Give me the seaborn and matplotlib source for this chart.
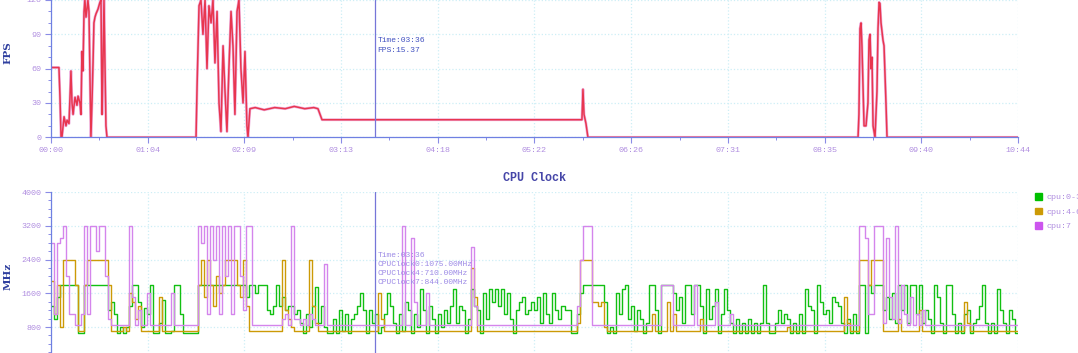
import numpy as np
import pandas as pd
import matplotlib
matplotlib.use("Agg")
import matplotlib.pyplot as plt
from matplotlib.ticker import MultipleLocator
from matplotlib.patches import Patch
import seaborn as sns

# ---------------- data ----------------
# x tick labels (mm:ss), total duration 644 s
tick_labels = ["00:00", "01:04", "02:09", "03:13", "04:18", "05:22",
               "06:26", "07:31", "08:35", "09:40", "10:44"]
duration_s = 644

# FPS trace (time in seconds, value in fps)
fps_time = [0, 5.3, 6, 6.7, 7.3, 8.7, 10, 10.7, 12, 13.3, 14, 14.7, 16, 17.3, 18,
            19.3, 20, 20.6, 21.3, 22, 22.6, 23.3, 24, 24.6, 25.3, 26, 26.6, 27.3,
            28, 28.6, 29.3, 30, 31.3, 32.6, 33.3, 34, 34.6, 35.3, 36, 36.6, 37.3,
            96.6, 97.3, 98.6, 99.9, 101.2, 102.6, 103.9, 105.2, 106.6, 107.9, 109.2,
            110.6, 111.9, 113.2, 114.6, 115.9, 117.2, 118.5, 119.9, 121.2, 122.5,
            123.9, 125.2, 126.5, 127.9, 129.2, 130.5, 131.2, 132.5, 136, 142, 149,
            156, 162, 169, 175, 177.8, 180.5, 353.6, 354.3, 355, 356.3, 357.6,
            537.5, 538.1, 538.8, 539.5, 540.1, 541.5, 542.8, 544.1, 544.8, 545.5,
            546.1, 546.8, 547.5, 548.8, 550.1, 550.8, 551.5, 552.1, 552.8, 554.1,
            554.8, 556.1, 556.8, 644]
fps_value = [61, 61, 35, 0, 0, 18, 10, 15, 12, 58, 30, 20, 35, 28, 36,
             30, 20, 75, 58, 110, 120, 105, 112, 120, 110, 50, 0, 30,
             65, 100, 105, 108, 112, 118, 120, 20, 60, 120, 60, 10, 0,
             0, 45, 115, 120, 90, 120, 60, 115, 100, 120, 65,
             110, 30, 5, 80, 40, 5, 60, 110, 80, 20,
             110, 120, 60, 30, 75, 10, 0, 25, 26, 24, 26,
             25, 27, 25, 26, 25, 15.37, 15.37, 42, 20, 12, 0,
             0, 20, 95, 100, 80, 10, 10, 30, 85, 90,
             60, 70, 10, 0, 40, 95, 118, 117, 100, 85,
             80, 30, 0, 0]

# CPU clocks (MHz), one sample every 2 s
cpu_sample_s = 2
cpu0_3 = [
    1300, 1000, 1500, 1800, 1800, 1800, 1800, 1800, 1800, 650,
    650, 1800, 1800, 1800, 1800, 1800, 1800, 1800, 1800, 1200,
    1400, 1100, 650, 800, 650, 800, 1300, 1800, 1800, 1400,
    800, 1250, 1100, 1800, 650, 650, 900, 1450, 650, 650,
    700, 1800, 1800, 1100, 650, 650, 650, 650, 650, 1800,
    1800, 1800, 1800, 1800, 1800, 1800, 1800, 1800, 1800, 1800,
    1800, 1800, 1800, 1800, 1800, 1500, 1800, 1800, 1600, 1800,
    1800, 1800, 1200, 1100, 1300, 1800, 1300, 1500, 1200, 1300,
    1300, 1100, 1200, 900, 650, 1100, 800, 1300, 1750, 900,
    1300, 800, 650, 650, 1000, 650, 1200, 700, 1100, 650,
    1000, 1100, 1300, 1600, 1200, 650, 1200, 900, 1100, 650,
    800, 1100, 1600, 1300, 900, 650, 1100, 700, 1400, 1200,
    650, 1100, 800, 1700, 1200, 650, 1300, 1000, 650, 1100,
    800, 1200, 900, 1300, 1700, 900, 1300, 1200, 650, 1000,
    1700, 1300, 1200, 650, 1600, 1000, 1700, 1400, 1700, 1300,
    1700, 1100, 1600, 1000, 650, 1200, 1400, 1500, 1100, 1200,
    1400, 1200, 1500, 900, 1600, 1100, 900, 1600, 1200, 1000,
    1300, 1200, 1200, 650, 650, 1100, 1600, 1800, 1800, 1800,
    1800, 1800, 1800, 1800, 1400, 650, 800, 650, 1600, 1100,
    1700, 1800, 1000, 1300, 700, 1200, 1000, 650, 900, 1800,
    1800, 1200, 650, 1800, 1800, 1800, 1800, 1600, 1200, 1500,
    900, 1800, 1800, 1100, 1800, 1800, 1300, 650, 1700, 1000,
    1300, 1700, 650, 1100, 1700, 1200, 900, 650, 1000, 650,
    900, 650, 1000, 650, 900, 650, 900, 1800, 900, 650,
    650, 900, 1200, 900, 1100, 1000, 650, 900, 650, 1100,
    650, 1700, 1300, 1200, 650, 1800, 1400, 1100, 1200, 900,
    1500, 1400, 1300, 900, 650, 1000, 650, 1100, 650, 1800,
    1800, 650, 1800, 1600, 1800, 1800, 1800, 1200, 1500, 1000,
    1600, 900, 1800, 1200, 1800, 900, 1800, 1800, 1100, 1800,
    900, 1200, 1000, 650, 1800, 1500, 900, 650, 1800, 1800,
    1100, 650, 900, 650, 1100, 1200, 650, 900, 1000, 1300,
    1800, 900, 650, 900, 650, 1700, 1200, 900, 650, 1200,
    1000, 650, 650]
cpu4_6 = [
    1900, 1100, 1800, 800, 2400, 2400, 2400, 2400, 1800, 710,
    710, 1800, 2400, 2400, 2400, 2400, 2400, 2400, 2400, 1800,
    710, 710, 710, 710, 800, 710, 1600, 1400, 1000, 1300,
    710, 710, 710, 710, 710, 710, 1500, 710, 710, 710,
    710, 710, 710, 710, 710, 710, 710, 710, 710, 1800,
    2400, 1500, 2400, 1800, 1300, 2000, 1600, 1800, 2400, 2400,
    2400, 2400, 1800, 1500, 2400, 1300, 710, 710, 710, 710,
    710, 710, 710, 710, 710, 710, 710, 2400, 1200, 1000,
    800, 710, 710, 710, 710, 710, 2400, 1300, 900, 710,
    710, 710, 710, 710, 710, 710, 710, 710, 710, 710,
    710, 710, 710, 710, 710, 710, 710, 710, 710, 1600,
    1000, 710, 710, 710, 710, 710, 710, 710, 710, 710,
    710, 710, 710, 710, 710, 710, 710, 710, 710, 710,
    710, 710, 710, 710, 710, 710, 710, 710, 710, 710,
    2200, 1500, 710, 710, 710, 710, 710, 710, 710, 710,
    710, 710, 710, 710, 710, 710, 710, 710, 710, 710,
    710, 710, 710, 710, 710, 710, 710, 710, 710, 710,
    710, 710, 710, 710, 710, 900, 2400, 2400, 2400, 2400,
    1400, 1400, 1300, 1400, 800, 710, 710, 710, 710, 710,
    710, 710, 710, 710, 710, 710, 710, 710, 710, 710,
    1100, 710, 710, 710, 710, 1400, 710, 1100, 710, 710,
    710, 710, 710, 710, 710, 710, 1000, 710, 710, 710,
    710, 710, 710, 710, 710, 710, 710, 710, 710, 710,
    710, 710, 710, 710, 710, 710, 710, 710, 710, 710,
    710, 710, 710, 710, 710, 800, 710, 710, 710, 710,
    710, 710, 710, 710, 710, 710, 710, 710, 710, 710,
    710, 710, 710, 710, 1500, 900, 710, 710, 710, 2400,
    2400, 2400, 1800, 2400, 2400, 2400, 2400, 710, 710, 710,
    710, 710, 1000, 710, 710, 710, 710, 710, 710, 1200,
    710, 710, 710, 710, 710, 710, 710, 710, 710, 710,
    710, 710, 710, 710, 1400, 900, 710, 710, 710, 710,
    710, 710, 710, 710, 710, 710, 710, 710, 710, 710,
    710, 710, 710]
cpu7 = [
    2800, 1100, 2800, 2900, 3200, 2000, 1100, 1100, 844, 844,
    1100, 3200, 1100, 3200, 3200, 2600, 3200, 3200, 2000, 1000,
    844, 844, 844, 844, 844, 844, 3200, 1500, 844, 1200,
    844, 844, 1600, 844, 844, 844, 844, 844, 844, 844,
    1600, 844, 844, 844, 844, 844, 844, 844, 844, 3200,
    2800, 3200, 1100, 3200, 2400, 3200, 1100, 3200, 2000, 3200,
    1100, 3200, 3200, 2000, 1200, 3200, 3200, 844, 844, 844,
    844, 844, 844, 844, 844, 844, 844, 1000, 1100, 844,
    3200, 1000, 1000, 844, 1000, 844, 1100, 1000, 844, 844,
    844, 2300, 844, 844, 844, 844, 844, 844, 844, 844,
    844, 844, 844, 844, 844, 844, 844, 844, 844, 844,
    844, 844, 844, 844, 844, 844, 844, 3200, 844, 844,
    2900, 1400, 844, 844, 844, 1600, 844, 844, 844, 844,
    844, 844, 844, 844, 844, 844, 844, 844, 844, 844,
    2700, 1300, 844, 844, 844, 844, 844, 844, 844, 844,
    844, 844, 844, 844, 844, 844, 844, 844, 844, 844,
    844, 844, 844, 844, 844, 844, 844, 844, 844, 844,
    844, 844, 844, 844, 844, 1300, 2400, 3200, 3200, 3200,
    844, 844, 844, 844, 844, 844, 844, 844, 844, 844,
    844, 844, 844, 844, 844, 844, 844, 844, 844, 844,
    844, 844, 844, 1800, 1800, 1800, 1800, 844, 844, 844,
    844, 844, 844, 844, 1800, 844, 844, 844, 844, 844,
    844, 1400, 844, 844, 844, 844, 1100, 844, 844, 844,
    844, 844, 844, 844, 844, 844, 844, 844, 844, 844,
    844, 844, 844, 844, 844, 844, 844, 844, 844, 844,
    844, 844, 844, 844, 844, 844, 844, 844, 844, 844,
    844, 844, 844, 844, 844, 844, 844, 844, 844, 3200,
    3200, 2900, 1100, 1100, 3200, 3200, 3200, 900, 2900, 1500,
    1000, 3200, 900, 1800, 1100, 844, 1500, 844, 1100, 844,
    1200, 844, 844, 844, 844, 844, 844, 844, 844, 844,
    844, 844, 844, 844, 844, 844, 844, 844, 844, 844,
    844, 844, 844, 844, 844, 844, 844, 844, 844, 844,
    844, 844, 844]
cpu_labels = ["cpu:0-3", "cpu:4-6", "cpu:7"]

# cursor readout
cursor_s = 216
cursor_label = "Time:03:36"
fps_readout = "FPS:15.37"
cpu_readout = ["CPUClock0:1075.00MHz", "CPUClock4:710.00MHz", "CPUClock7:844.00MHz"]

# ---------------- style ----------------
sns.set_theme(style="white")
plt.rcParams["font.family"] = ["Liberation Mono", "DejaVu Sans Mono"]

SPINE = "#6f80e2"
TICKLBL = "#b08ee0"
GRID = "#cdeef6"
c_green, c_gold, c_purple = "#12c012", "#cc9a06", "#d485ec"

fig = plt.figure(figsize=(10.78, 3.53), dpi=100)
ax1 = fig.add_axes([0.0473, 0.611, 0.897, 0.389])
ax2 = fig.add_axes([0.0473, -0.022, 0.897, 0.478])

tick_pos = np.linspace(0, duration_s, len(tick_labels))
cpu_time = np.arange(len(cpu0_3)) * cpu_sample_s

# FPS
sns.lineplot(x=fps_time, y=fps_value, ax=ax1, color="#efb0dc", lw=2.0,
             estimator=None, sort=False)
sns.lineplot(x=fps_time, y=fps_value, ax=ax1, color="#e8364f", lw=1.1,
             estimator=None, sort=False)

# CPU
for vals, col in [(cpu0_3, c_green), (cpu4_6, c_gold), (cpu7, c_purple)]:
    sns.lineplot(x=cpu_time, y=vals, ax=ax2, color=col, lw=1.0,
                 drawstyle="steps-post", estimator=None, sort=False)

for ax in (ax1, ax2):
    ax.set_xlim(0, duration_s)
    ax.set_xticks(tick_pos)
    ax.xaxis.set_minor_locator(MultipleLocator(duration_s / 20))
    for s in ("top", "right"):
        ax.spines[s].set_visible(False)
    for s in ("left", "bottom"):
        ax.spines[s].set_color(SPINE)
        ax.spines[s].set_linewidth(0.9)
    ax.grid(True, which="major", ls=":", color=GRID, lw=0.9)
    ax.tick_params(axis="both", which="major", length=4, width=0.8, color="#8a8ce6",
                   labelsize=6, labelcolor=TICKLBL, direction="out", pad=3,
                   bottom=True, left=True)
    ax.tick_params(axis="both", which="minor", length=2.5, width=0.7, color="#8a8ce6",
                   direction="out", bottom=True, left=True)
    ax.axvline(cursor_s, color="#7676d8", lw=0.9, zorder=5)
    ax.set_xlabel("")

ax1.set_xticklabels(tick_labels)
ax1.set_ylim(0, 120)
ax1.set_yticks([0, 30, 60, 90, 120])
ax1.yaxis.set_minor_locator(MultipleLocator(10))
ax1.set_ylabel("FPS", fontsize=7.5, fontweight="bold", color="#2f3f9f", family="DejaVu Serif")
ax1.yaxis.set_label_coords(-0.040, 0.62)

ax2.set_xticklabels([])
ax2.set_ylim(0, 4000)
ax2.set_yticks([800, 1600, 2400, 3200, 4000])
ax2.yaxis.set_minor_locator(MultipleLocator(200))
ax2.set_ylabel("MHz", fontsize=7.5, fontweight="bold", color="#2f3f9f", family="DejaVu Serif")
ax2.yaxis.set_label_coords(-0.040, 0.50)
ax2.text(0.5, 1.083, "CPU Clock", transform=ax2.transAxes, ha="center", va="center",
         fontsize=8.5, fontweight="bold", color="#4646a8")

# readouts
ax1.text(cursor_s + 1.5, 85, cursor_label, fontsize=5.8, color="#4050c0", va="center", ha="left")
ax1.text(cursor_s + 1.5, 76.3, fps_readout, fontsize=5.8, color="#4050c0", va="center", ha="left")
ax2.text(cursor_s + 1.5, 2506, cursor_label, fontsize=5.8, color="#9c8ae6", va="center", ha="left")
for txt, yv in zip(cpu_readout, [2293, 2080, 1867]):
    ax2.text(cursor_s + 1.5, yv, txt, fontsize=5.8, color="#9c8ae6", va="center", ha="left")

# legend
handles = [Patch(color=c) for c in ("#00c000", "#cc9a06", "#cc55ee")]
fig.legend(handles, cpu_labels, loc="upper left", bbox_to_anchor=(0.9601, 0.4533),
           frameon=False, fontsize=6, handlelength=0.9, handleheight=0.9,
           handletextpad=0.5, labelspacing=0.75, borderpad=0, borderaxespad=0,
           labelcolor=TICKLBL)

fig.savefig("out.png", dpi=100)
